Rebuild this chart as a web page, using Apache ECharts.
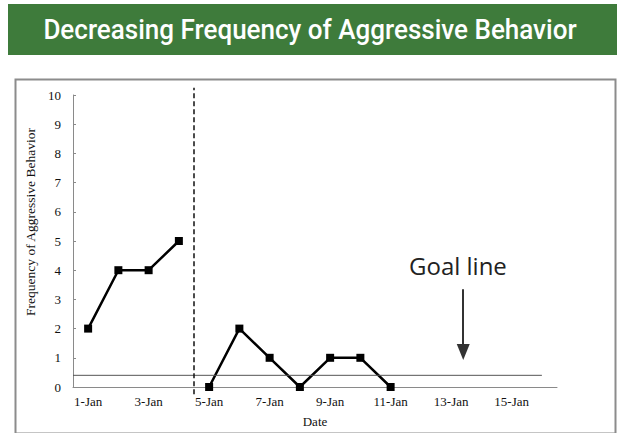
<!DOCTYPE html>
<html>
<head>
<meta charset="utf-8">
<script src="https://cdn.jsdelivr.net/npm/echarts@6/dist/echarts.min.js"></script>
<style>
  html, body { margin: 0; padding: 0; background: #fff; }
  #chart { width: 617px; height: 433px; }
</style>
</head>
<body>
<div id="chart"></div>
<script>
// data
const dates = ['1-Jan', '2-Jan', '3-Jan', '4-Jan', '5-Jan', '6-Jan', '7-Jan', '8-Jan',
  '9-Jan', '10-Jan', '11-Jan', '12-Jan', '13-Jan', '14-Jan', '15-Jan', '16-Jan']
const baseline = [2, 4, 4, 5]
const intervention = ['-', '-', '-', '-', 0, 2, 1, 0, 1, 1, 0]
const goalValue = 0.4
const phaseChange = 4       // boundary between 4-Jan and 5-Jan
const yTicks = { min: 0, max: 10, interval: 1 }

const chartDom = document.getElementById('chart')
const myChart = echarts.init(chartDom, null, { renderer: 'svg' })

const serif = 'Liberation Serif'

const option = {
  animation: false,
  graphic: [
    // green banner
    { type: 'rect', left: 8, top: 4, z: 0, shape: { width: 609, height: 51 }, style: { fill: '#3e7b3b' } },
    {
      type: 'text', x: 310, y: 30, z: 1, scaleX: 0.93,
      style: {
        text: 'Decreasing Frequency of Aggressive Behavior', fill: '#fff',
        font: '500 28px Roboto, sans-serif', align: 'center', verticalAlign: 'middle'
      }
    },
    // chart frame
    { type: 'rect', left: 13, top: 77, z: 0, shape: { width: 600, height: 354 }, style: { fill: 'none', stroke: '#8c8c8c', lineWidth: 2 } },
    {
      type: 'text', left: 409, top: 253, z: 5,
      style: { text: 'Goal line', fill: '#222', font: '24px "Open Sans", sans-serif' }
    }
  ],
  grid: { left: 73, right: 60, top: 95, bottom: 45 },
  xAxis: [
    {
      type: 'category',
      data: dates,
      boundaryGap: true,
      name: 'Date',
      nameLocation: 'middle',
      nameGap: 28,
      nameTextStyle: { fontFamily: serif, fontSize: 13, color: '#111' },
      axisLine: { lineStyle: { color: '#8a8a8a', width: 1 } },
      axisTick: { length: 5, lineStyle: { color: '#8a8a8a' } },
      axisLabel: { interval: 1, margin: 8, fontFamily: serif, fontSize: 13, color: '#111' }
    },
    { type: 'value', min: 0, max: dates.length, show: false }
  ],
  yAxis: {
    type: 'value',
    min: yTicks.min,
    max: yTicks.max,
    interval: yTicks.interval,
    name: 'Frequency of Aggressive Behavior',
    nameLocation: 'middle',
    nameGap: 31,
    nameTextStyle: { fontFamily: serif, fontSize: 13.5, color: '#111', padding: [0, 0, 0, 38] },
    axisLine: { show: true, lineStyle: { color: '#8a8a8a', width: 1 } },
    axisTick: { show: true, inside: true, length: 3, lineStyle: { color: '#8a8a8a' } },
    axisLabel: { margin: 12, fontFamily: serif, fontSize: 13, color: '#111' },
    splitLine: { show: false }
  },
  series: [
    {
      name: 'Baseline', type: 'line', data: baseline,
      symbol: 'rect', symbolSize: 8,
      lineStyle: { color: '#000', width: 2.5 },
      itemStyle: { color: '#000' }
    },
    {
      name: 'Intervention', type: 'line', data: intervention,
      symbol: 'rect', symbolSize: 8,
      lineStyle: { color: '#000', width: 2.5 },
      itemStyle: { color: '#000' }
    },
    {
      // goal line
      name: 'Goal', type: 'line', xAxisIndex: 1,
      data: [[0, goalValue], [dates.length - 0.5, goalValue]],
      symbol: 'none',
      lineStyle: { color: '#555', width: 1 },
      markLine: {
        silent: true,
        symbol: ['none', 'triangle'],
        symbolSize: [13, 16],
        label: { show: false },
        lineStyle: { color: '#333', width: 2, type: 'solid' },
        data: [[{ coord: [12.9, 3.35] }, { coord: [12.9, 1.2] }]]
      }
    },
    {
      // phase change line
      name: 'Phase', type: 'line', xAxisIndex: 1, clip: false,
      data: [[phaseChange, -0.25], [phaseChange, 10.25]],
      symbol: 'none',
      lineStyle: { color: '#111', width: 1.5, type: [5, 3] }
    }
  ]
}

option && myChart.setOption(option)
</script>
</body>
</html>
